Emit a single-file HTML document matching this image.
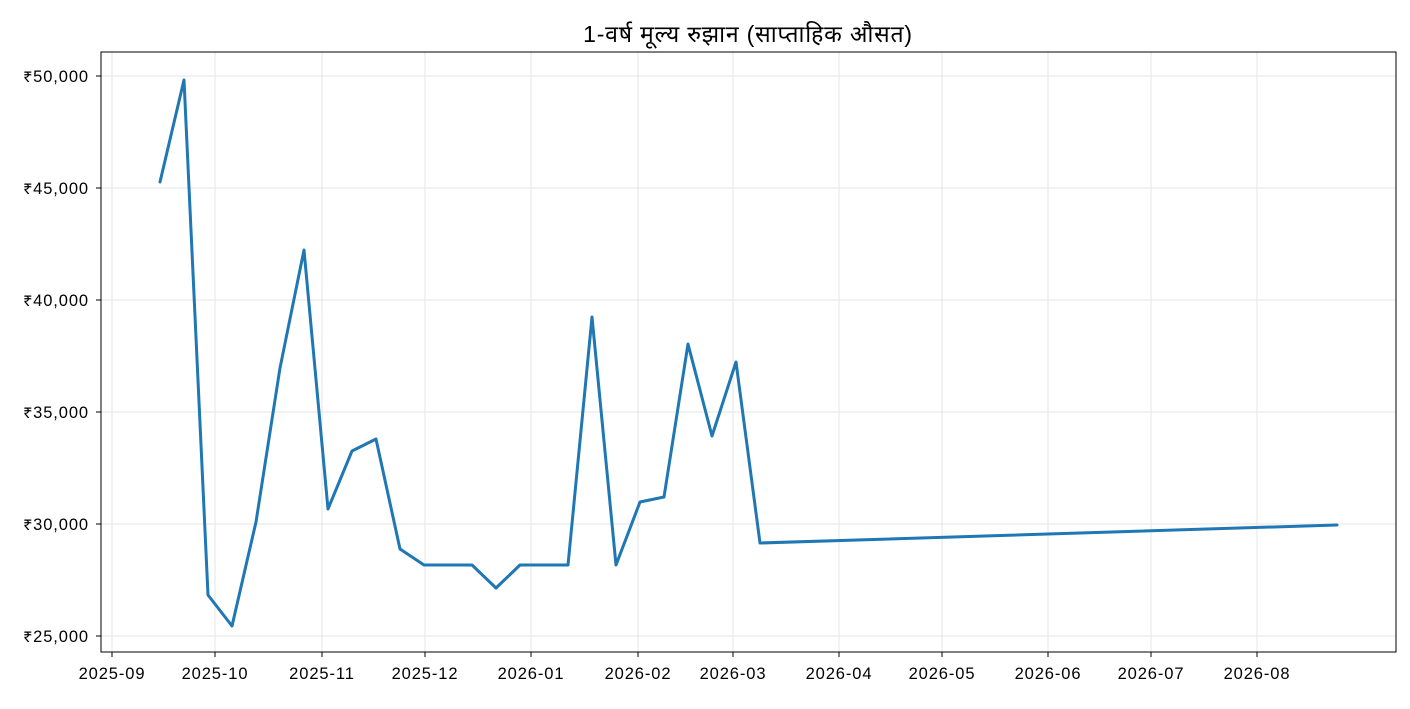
<!DOCTYPE html>
<html><head><meta charset="utf-8"><style>
html,body{margin:0;padding:0;background:#fff;}
svg text{font-family:"Liberation Sans","Noto Sans Devanagari","Noto Sans CJK SC",sans-serif;fill:#000;}
</style></head><body>
<svg width="1410" height="704" viewBox="0 0 1410 704" xmlns="http://www.w3.org/2000/svg">
<rect width="1410" height="704" fill="#fff"/>
<g stroke="#e6e6e6" stroke-width="1">
<line x1="112" y1="52" x2="112" y2="652"/><line x1="215" y1="52" x2="215" y2="652"/><line x1="322" y1="52" x2="322" y2="652"/><line x1="425" y1="52" x2="425" y2="652"/><line x1="531" y1="52" x2="531" y2="652"/><line x1="638" y1="52" x2="638" y2="652"/><line x1="733" y1="52" x2="733" y2="652"/><line x1="839" y1="52" x2="839" y2="652"/><line x1="942" y1="52" x2="942" y2="652"/><line x1="1048" y1="52" x2="1048" y2="652"/><line x1="1151" y1="52" x2="1151" y2="652"/><line x1="1257" y1="52" x2="1257" y2="652"/>
<line x1="101" y1="76" x2="1396" y2="76"/><line x1="101" y1="188" x2="1396" y2="188"/><line x1="101" y1="300" x2="1396" y2="300"/><line x1="101" y1="412" x2="1396" y2="412"/><line x1="101" y1="524" x2="1396" y2="524"/><line x1="101" y1="636" x2="1396" y2="636"/>
</g>
<rect x="101" y="52" width="1295" height="600" fill="none" stroke="#000" stroke-width="1"/>
<g stroke="#000" stroke-width="1">
<line x1="112" y1="652" x2="112" y2="657"/><line x1="215" y1="652" x2="215" y2="657"/><line x1="322" y1="652" x2="322" y2="657"/><line x1="425" y1="652" x2="425" y2="657"/><line x1="531" y1="652" x2="531" y2="657"/><line x1="638" y1="652" x2="638" y2="657"/><line x1="733" y1="652" x2="733" y2="657"/><line x1="839" y1="652" x2="839" y2="657"/><line x1="942" y1="652" x2="942" y2="657"/><line x1="1048" y1="652" x2="1048" y2="657"/><line x1="1151" y1="652" x2="1151" y2="657"/><line x1="1257" y1="652" x2="1257" y2="657"/>
<line x1="96" y1="76" x2="101" y2="76"/><line x1="96" y1="188" x2="101" y2="188"/><line x1="96" y1="300" x2="101" y2="300"/><line x1="96" y1="412" x2="101" y2="412"/><line x1="96" y1="524" x2="101" y2="524"/><line x1="96" y1="636" x2="101" y2="636"/>
</g>
<g font-size="16.5" text-anchor="middle" letter-spacing="0.9">
<text x="112" y="679">2025-09</text><text x="215" y="679">2025-10</text><text x="322" y="679">2025-11</text><text x="425" y="679">2025-12</text><text x="531" y="679">2026-01</text><text x="638" y="679">2026-02</text><text x="733" y="679">2026-03</text><text x="839" y="679">2026-04</text><text x="942" y="679">2026-05</text><text x="1048" y="679">2026-06</text><text x="1151" y="679">2026-07</text><text x="1257" y="679">2026-08</text>
</g>
<g font-size="16.5" text-anchor="end" letter-spacing="0.9">
<text x="89" y="82">₹50,000</text><text x="89" y="194">₹45,000</text><text x="89" y="306">₹40,000</text><text x="89" y="418">₹35,000</text><text x="89" y="530">₹30,000</text><text x="89" y="642">₹25,000</text>
</g>
<text x="748" y="42" font-size="23" text-anchor="middle" letter-spacing="0.8">1-वर्ष मूल्य रुझान (साप्ताहिक औसत)</text>
<polyline fill="none" stroke="#1f77b4" stroke-width="3" stroke-linejoin="round" stroke-linecap="round" points="160,182 184,80 208,595 232,626 256,522 280,368 304,250 328,509 352,451 376,439 400,549 424,565 448,565 472,565 496,588 520,565 544,565 568,565 592,317 616,565 640,502 664,497 688,344 712,436 736,362 760,543 1337,525"/>
</svg>
</body></html>
